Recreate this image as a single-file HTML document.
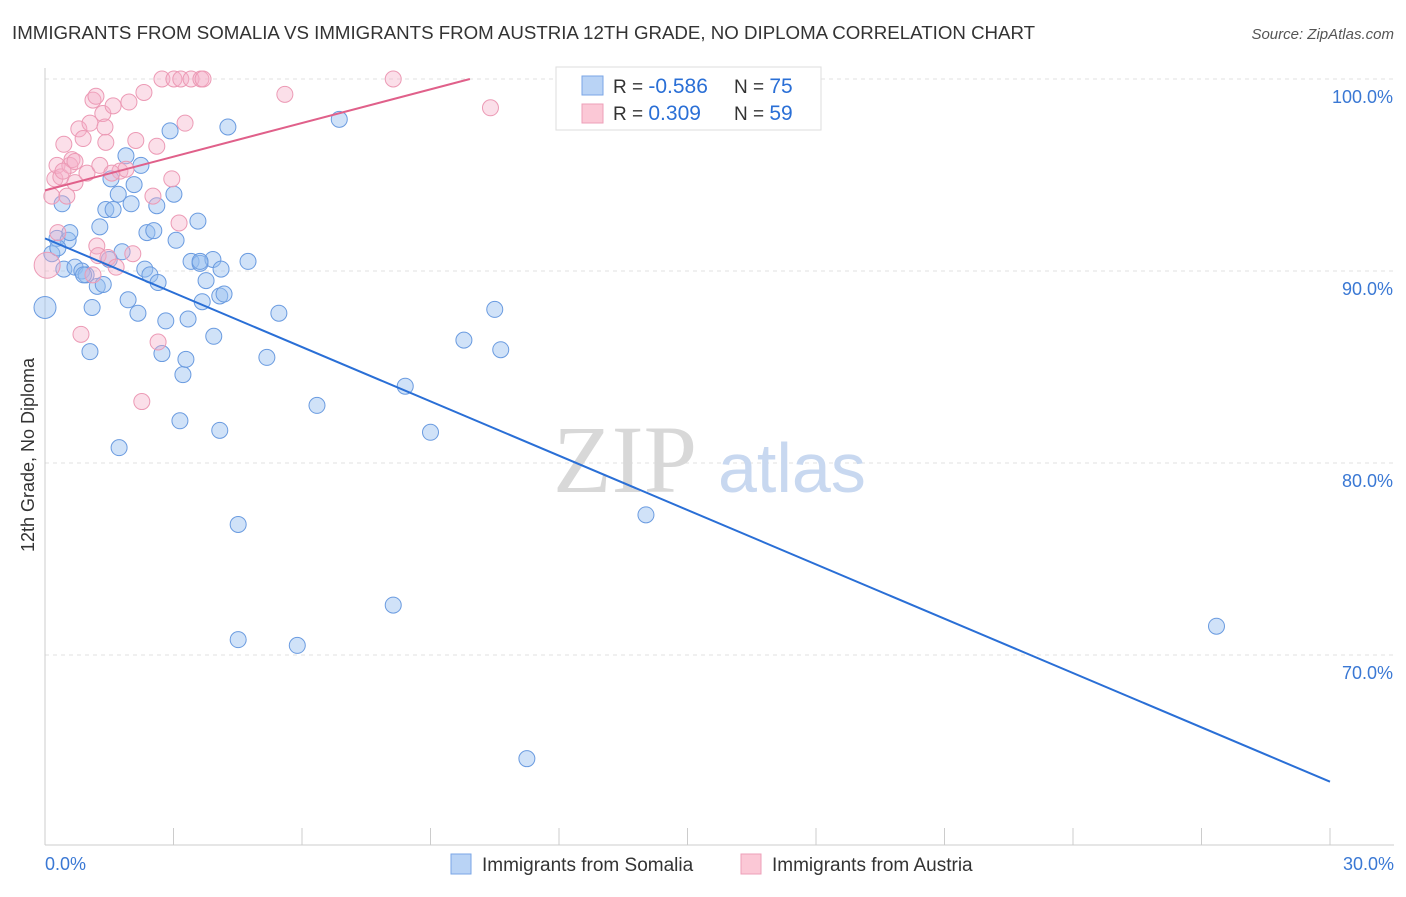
<!DOCTYPE html>
<html><head><meta charset="utf-8"><style>
body{margin:0;background:#fff;font-family:"Liberation Sans",sans-serif}
svg text{font-family:"Liberation Sans",sans-serif}
</style></head><body>
<svg width="1406" height="892" xmlns="http://www.w3.org/2000/svg">
<text x="12" y="39" font-size="18.7" fill="#333">IMMIGRANTS FROM SOMALIA VS IMMIGRANTS FROM AUSTRIA 12TH GRADE, NO DIPLOMA CORRELATION CHART</text>
<text x="1394" y="39" font-size="15" fill="#555" font-style="italic" text-anchor="end">Source: ZipAtlas.com</text>
<text x="0" y="0" transform="translate(34,455) rotate(-90)" font-size="18" fill="#333" text-anchor="middle">12th Grade, No Diploma</text>
<g id="grid"></g>
<text x="553" y="492" font-size="96" fill="#d8d8d8" font-family="Liberation Serif" style="font-family:'Liberation Serif',serif">ZIP</text>
<text x="718" y="492" font-size="70" fill="#c8d8f0">atlas</text>
<g id="points"></g>
<g id="lines"></g>
<rect x="556" y="67" width="265" height="63" fill="#fff" stroke="#ddd"/>
<rect x="582" y="76" width="21" height="19" fill="#b9d3f5" stroke="#7aa6e6"/>
<rect x="582" y="104" width="21" height="19" fill="#fbc8d6" stroke="#ee9fb8"/>
<text x="613" y="93" font-size="19" fill="#333">R = <tspan font-size="21" fill="#2a6fd6">-0.586</tspan></text>
<text x="734" y="93" font-size="19" fill="#333">N = <tspan font-size="21" fill="#2a6fd6">75</tspan></text>
<text x="613" y="120" font-size="19" fill="#333">R = <tspan font-size="21" fill="#2a6fd6"> 0.309</tspan></text>
<text x="734" y="120" font-size="19" fill="#333">N = <tspan font-size="21" fill="#2a6fd6">59</tspan></text>
<rect x="451" y="854" width="20" height="20" fill="#b9d3f5" stroke="#7aa6e6"/>
<text x="482" y="871" font-size="19" fill="#333">Immigrants from Somalia</text>
<rect x="741" y="854" width="20" height="20" fill="#fbc8d6" stroke="#ee9fb8"/>
<text x="772" y="871" font-size="19" fill="#333">Immigrants from Austria</text>
</svg>
<script>
const yTicks=[100,90,80,70];
const yTickLabels=["100.0%","90.0%","80.0%","70.0%"];
const xTickLabels=["0.0%","30.0%"];
const somaliaX=[0,0.16,0.28,0.4,0.54,0.58,0.44,0.7,0.86,0.96,1.05,1.1,1.22,1.36,1.28,1.42,1.54,1.59,1.71,1.8,1.89,1.94,2.01,2.08,2.17,2.24,2.33,2.38,2.45,2.54,2.61,2.64,2.73,2.82,2.92,3.01,3.06,3.15,3.22,3.29,3.34,3.41,3.57,3.62,3.67,3.76,3.92,3.94,4.08,4.11,4.18,4.08,4.27,4.51,4.51,4.74,5.18,5.46,5.89,6.35,6.87,8.13,8.41,9.0,9.78,10.5,10.64,11.25,14.03,27.35,1.73,3.62,0.3,0.9,1.5];
const somaliaY=[88.1,90.9,91.7,93.5,91.6,92.0,90.1,90.2,90.0,89.8,85.8,88.1,89.2,89.3,92.3,93.2,94.8,93.2,94.0,91.0,96.0,88.5,93.5,94.5,87.8,95.5,90.1,92.0,89.8,92.1,93.4,89.4,85.7,87.4,97.3,94.0,91.6,82.2,84.6,85.4,87.5,90.5,92.6,90.4,88.4,89.5,90.6,86.6,88.7,90.1,88.8,81.7,97.5,76.8,70.8,90.5,85.5,87.8,70.5,83.0,97.9,72.6,84.0,81.6,86.4,88.0,85.9,64.6,77.3,71.5,80.8,90.5,91.2,89.8,90.6];
const austriaX=[0.05,0.16,0.23,0.28,0.37,0.44,0.51,0.58,0.63,0.7,0.79,0.84,0.89,0.98,1.05,1.12,1.19,1.21,1.24,1.28,1.35,1.4,1.42,1.47,1.59,1.66,1.75,1.89,1.96,2.05,2.12,2.26,2.31,2.52,2.61,2.64,2.73,2.96,3.01,3.13,3.17,3.27,3.41,3.64,3.69,5.6,8.13,10.4,0.3,0.42,0.7,1.12,1.56];
const austriaY=[90.3,93.9,94.8,95.5,94.9,96.6,93.9,95.5,95.8,94.6,97.4,86.7,96.9,95.1,97.7,98.9,99.1,91.3,90.8,95.5,98.2,97.5,96.7,90.7,98.6,90.2,95.2,95.3,98.8,90.9,96.8,83.2,99.3,93.9,96.5,86.3,100,94.8,100,92.5,100,97.7,100,100,100,99.2,100,98.5,92.0,95.2,95.7,89.8,95.1];
const trendSomalia=[91.7,63.4];
const trendAustria=[94.2,100];
const NS="http://www.w3.org/2000/svg";
const xs=v=>45+v/30*1285, ys=v=>79+(100-v)*19.2;
function mk(t,a,p){const e=document.createElementNS(NS,t);for(const k in a)e.setAttribute(k,a[k]);document.getElementById(p).appendChild(e);return e;}
yTicks.forEach((t,i)=>{
 const l=mk('line',{x1:45,x2:1394,y1:ys(t),y2:ys(t),stroke:'#e2e2e2','stroke-dasharray':'4,4'},'grid');
 
 
 const tx=mk('text',{x:1393,y:ys(t)+24,'font-size':18,fill:'#3a78d4','text-anchor':'end'},'grid');
 tx.textContent=yTickLabels[i];
 
 
});
const ax=mk('line',{x1:45,x2:45,y1:68,y2:845,stroke:'#ccc'},'grid');


const bx=mk('line',{x1:45,x2:1394,y1:845,y2:845,stroke:'#ccc'},'grid');


for(let i=0;i<=10;i++){const t=mk('line',{x1:xs(i*3),x2:xs(i*3),y1:828,y2:845,stroke:'#ccc'},'grid');
 
 }
[[0,'start',45],[30,'end',1394]].forEach((d,i)=>{const t=mk('text',{x:d[2],y:870,'font-size':18,fill:'#3a78d4','text-anchor':d[1]},'grid');t.textContent=xTickLabels[i];
 
 });
somaliaX.forEach((x,i)=>{const c=mk('circle',{cx:xs(x),cy:ys(somaliaY[i]),r:i==0?11:8,fill:'rgba(150,190,240,0.45)',stroke:'#6a9be0','stroke-width':1},'points');
 
 });
austriaX.forEach((x,i)=>{const c=mk('circle',{cx:xs(x),cy:ys(austriaY[i]),r:i==0?13:8,fill:'rgba(245,175,200,0.4)',stroke:'#ec9ab5','stroke-width':1},'points');
 
 });
const l1=mk('line',{x1:xs(0),y1:ys(trendSomalia[0]),x2:xs(30),y2:ys(trendSomalia[1]),stroke:'#2a6fd6','stroke-width':2},'lines');


const l2=mk('line',{x1:xs(0),y1:ys(trendAustria[0]),x2:xs(9.92),y2:ys(trendAustria[1]),stroke:'#e0608a','stroke-width':2},'lines');


</script>
</body></html>
